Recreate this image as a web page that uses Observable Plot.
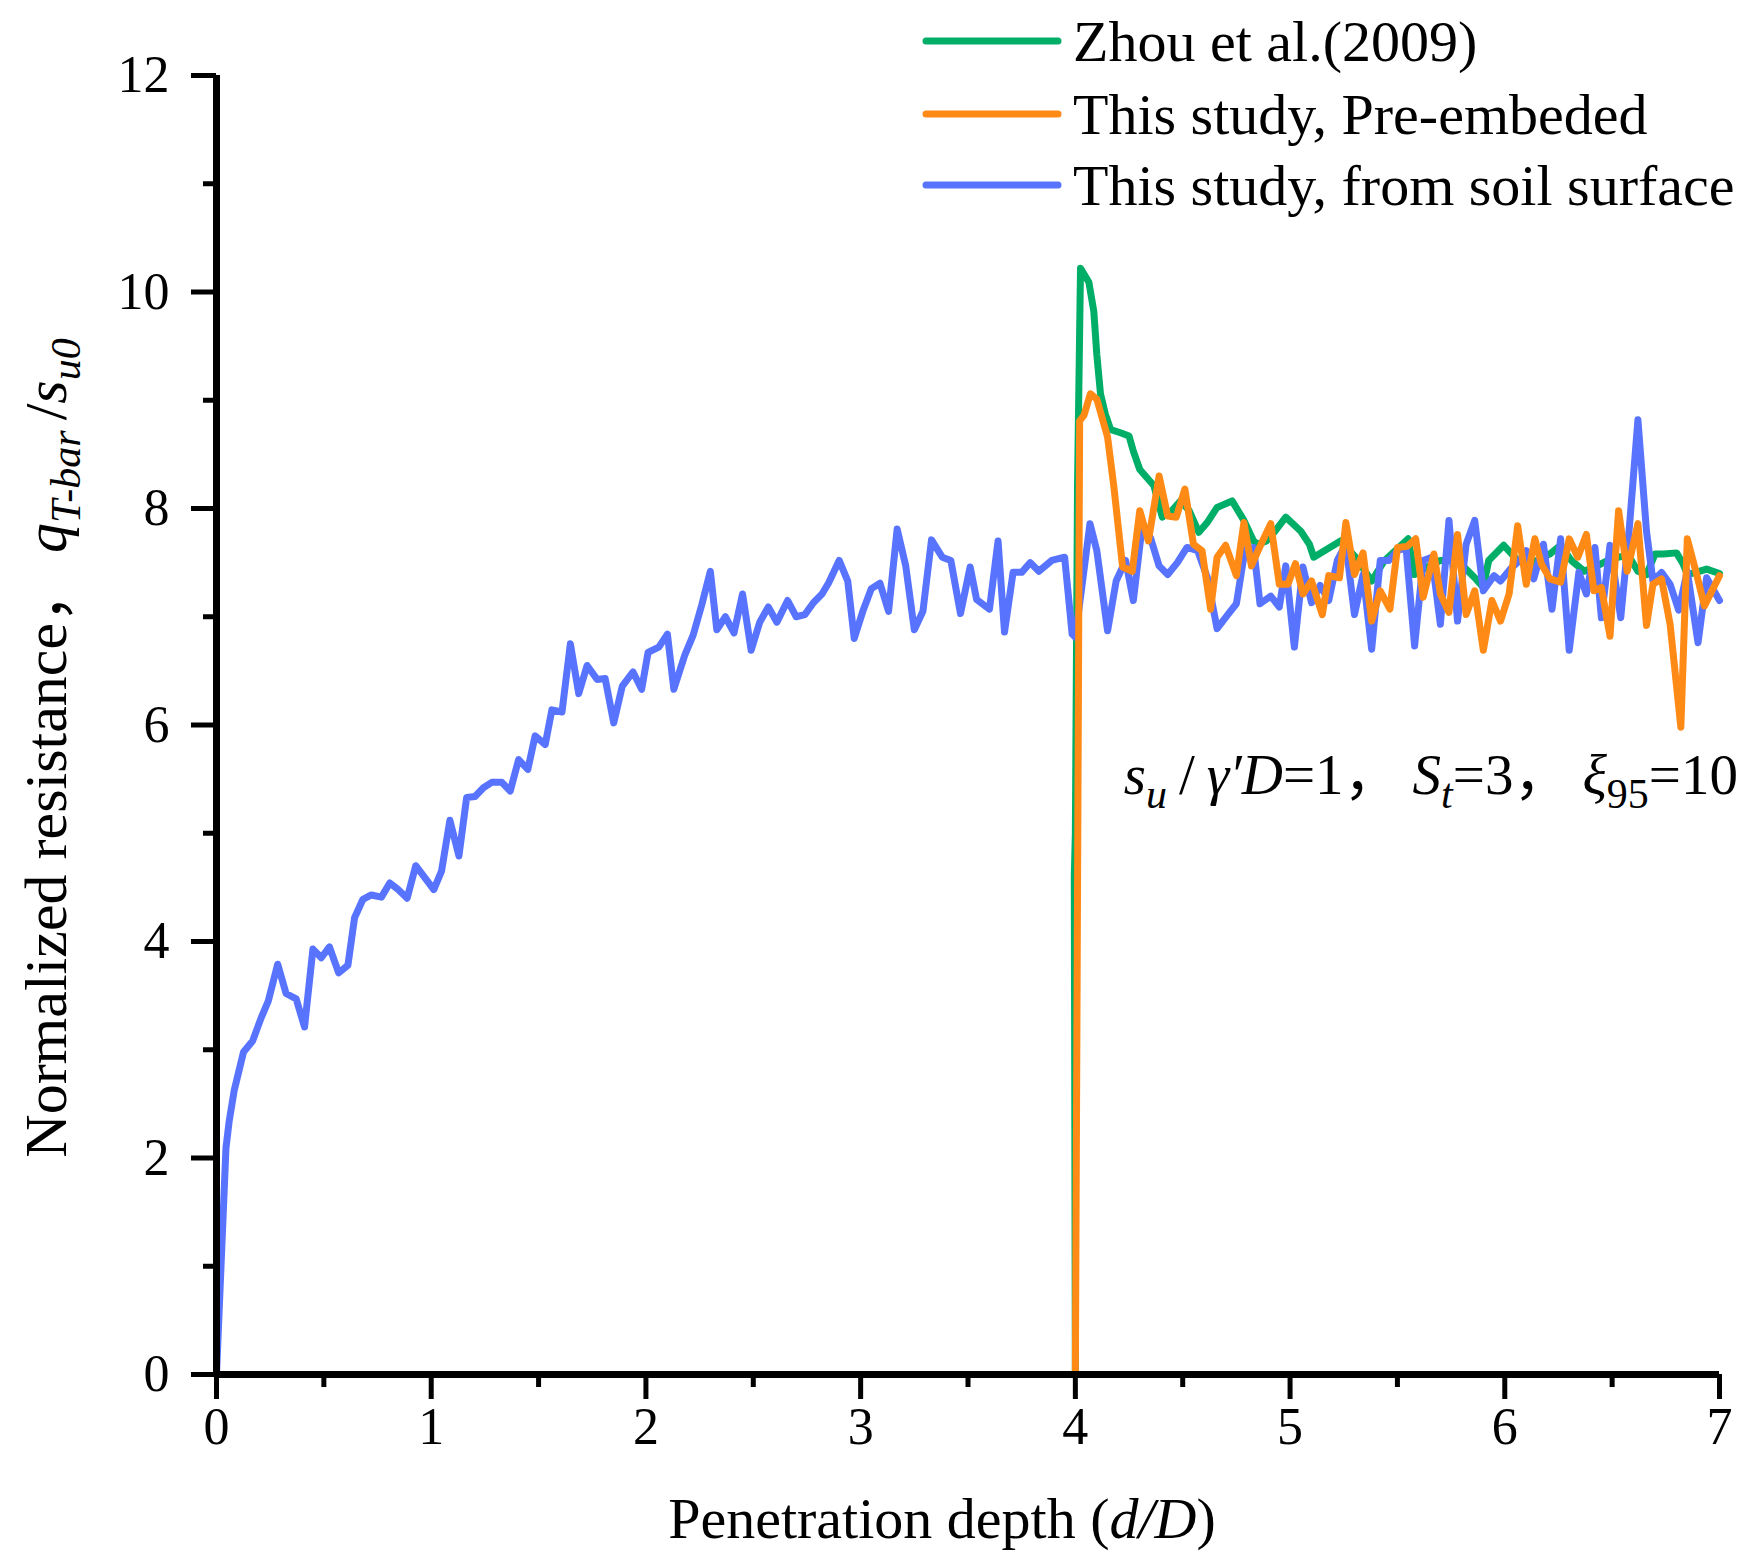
<!DOCTYPE html>
<html>
<head>
<meta charset="utf-8">
<script src="https://cdn.jsdelivr.net/npm/d3@7"></script>
<script src="https://cdn.jsdelivr.net/npm/@observablehq/plot@0.6"></script>
<style>
  html, body { margin: 0; padding: 0; background: #fff; }
  #chart svg { display: block; }
</style>
</head>
<body>
<div id="chart"></div>
<script>
// ---------------- data ----------------
const seriesNames = ["Zhou et al.(2009)", "This study, Pre-embeded", "This study, from soil surface"];
const seriesColors = ["#00AE67", "#FF8A16", "#5874FF"];

const greenDepth = [4.0,3.995,4.0,4.01,4.024,4.063,4.086,4.10,4.117,4.14,4.164,4.21,4.25,4.27,4.30,4.366,4.405,4.45,4.49,4.53,4.575,4.614,4.66,4.73,4.785,4.83,4.85,4.89,4.93,4.98,5.05,5.09,5.11,5.16,5.235,5.305,5.38,5.44,5.55,5.58,5.64,5.70,5.78,5.86,5.90,5.925,5.995,6.06,6.12,6.21,6.26,6.31,6.37,6.45,6.49,6.55,6.59,6.62,6.66,6.70,6.74,6.80,6.83,6.85,6.89,6.94,7.0];
const greenRes   = [0,4.6,5.0,8.2,10.22,10.09,9.82,9.42,9.06,8.87,8.73,8.70,8.67,8.53,8.36,8.21,7.92,7.98,8.07,7.98,7.78,7.87,8.01,8.07,7.89,7.70,7.67,7.70,7.79,7.92,7.79,7.67,7.55,7.61,7.70,7.55,7.33,7.52,7.72,7.39,7.46,7.52,7.52,7.36,7.27,7.52,7.66,7.52,7.49,7.58,7.66,7.52,7.42,7.49,7.53,7.56,7.52,7.42,7.39,7.58,7.58,7.59,7.49,7.39,7.41,7.44,7.40];

const orangeDepth = [4.0,4.02,4.04,4.07,4.10,4.15,4.18,4.22,4.265,4.30,4.34,4.39,4.43,4.47,4.51,4.55,4.59,4.63,4.66,4.70,4.75,4.785,4.82,4.86,4.91,4.95,4.99,5.025,5.06,5.10,5.15,5.18,5.23,5.26,5.30,5.34,5.38,5.42,5.465,5.50,5.545,5.585,5.62,5.67,5.70,5.74,5.78,5.82,5.86,5.90,5.94,5.98,6.02,6.06,6.10,6.14,6.17,6.21,6.26,6.30,6.34,6.38,6.415,6.45,6.49,6.53,6.57,6.62,6.66,6.69,6.73,6.77,6.82,6.85,6.89,6.93,7.0];
const orangeRes   = [0,8.81,8.86,9.06,9.01,8.66,8.19,7.46,7.42,7.98,7.70,8.30,7.93,7.92,8.18,7.67,7.61,7.07,7.55,7.66,7.38,7.87,7.47,7.65,7.86,7.30,7.30,7.49,7.21,7.33,7.02,7.38,7.36,7.87,7.39,7.59,6.96,7.24,7.07,7.64,7.65,7.72,7.18,7.58,7.21,7.04,7.76,7.02,7.24,6.69,7.15,6.96,7.21,7.84,7.30,7.72,7.49,7.35,7.32,7.72,7.55,7.76,7.24,7.27,6.82,7.98,7.42,7.86,6.92,7.30,7.35,6.93,5.98,7.72,7.42,7.10,7.38];

const blueDepth = [0,0.044,0.059,0.083,0.126,0.168,0.207,0.241,0.285,0.324,0.371,0.41,0.449,0.488,0.526,0.569,0.612,0.643,0.682,0.721,0.768,0.807,0.846,0.888,0.928,0.970,1.012,1.048,1.087,1.129,1.165,1.204,1.243,1.282,1.329,1.368,1.407,1.450,1.484,1.531,1.562,1.609,1.648,1.687,1.726,1.773,1.81,1.85,1.89,1.94,1.98,2.01,2.06,2.10,2.13,2.18,2.22,2.26,2.30,2.33,2.37,2.41,2.45,2.49,2.53,2.57,2.61,2.66,2.70,2.74,2.78,2.82,2.85,2.90,2.94,2.97,3.01,3.05,3.09,3.13,3.17,3.21,3.25,3.29,3.33,3.38,3.42,3.465,3.51,3.54,3.60,3.64,3.67,3.71,3.75,3.79,3.83,3.89,3.95,3.985,4.0,4.068,4.10,4.15,4.19,4.234,4.27,4.31,4.35,4.39,4.43,4.475,4.52,4.57,4.615,4.66,4.71,4.75,4.79,4.83,4.86,4.91,4.95,4.98,5.02,5.06,5.10,5.14,5.18,5.22,5.26,5.30,5.34,5.38,5.42,5.46,5.50,5.54,5.58,5.62,5.66,5.70,5.74,5.78,5.82,5.86,5.90,5.95,5.98,6.03,6.07,6.10,6.135,6.18,6.22,6.26,6.30,6.345,6.38,6.42,6.45,6.49,6.54,6.58,6.62,6.66,6.69,6.73,6.77,6.81,6.85,6.90,6.94,7.0];
const blueRes   = [0,2.09,2.34,2.63,2.98,3.08,3.29,3.45,3.79,3.52,3.47,3.21,3.93,3.85,3.95,3.71,3.78,4.22,4.39,4.43,4.41,4.54,4.48,4.40,4.70,4.59,4.48,4.65,5.12,4.79,5.33,5.34,5.42,5.47,5.47,5.39,5.68,5.59,5.90,5.82,6.14,6.12,6.75,6.29,6.55,6.42,6.43,6.02,6.36,6.49,6.33,6.67,6.72,6.84,6.33,6.64,6.83,7.11,7.42,6.88,7.00,6.85,7.21,6.69,6.95,7.09,6.95,7.15,7.00,7.02,7.13,7.21,7.31,7.52,7.33,6.80,7.05,7.26,7.31,7.05,7.81,7.47,6.88,7.05,7.71,7.55,7.52,7.03,7.46,7.16,7.07,7.70,6.86,7.41,7.41,7.50,7.42,7.52,7.55,6.84,6.81,7.86,7.61,6.87,7.33,7.52,7.15,7.82,7.73,7.47,7.39,7.50,7.64,7.61,7.36,6.89,7.02,7.12,7.62,7.64,7.12,7.19,7.09,7.47,6.72,7.46,7.13,7.29,7.15,7.52,7.67,7.02,7.39,6.70,7.52,7.52,7.61,7.64,6.73,7.52,7.55,6.93,7.89,6.96,7.67,7.89,7.24,7.38,7.33,7.45,7.52,7.61,7.35,7.67,7.07,7.72,6.69,7.41,7.21,7.64,6.99,7.66,6.99,7.82,8.82,7.79,7.33,7.41,7.30,7.06,7.42,6.76,7.36,7.15];

const xMajorTicks = [0,1,2,3,4,5,6,7];
const xMinorTicks = [0.5,1.5,2.5,3.5,4.5,5.5,6.5];
const yMajorTicks = [0,2,4,6,8,10,12];
const yMinorTicks = [1,3,5,7,9,11];

// ---------------- build rows ----------------
const toRows = (xs, ys, name) => xs.map((d, i) => ({depth: d, res: ys[i], series: name}));
const greenRows = toRows(greenDepth, greenRes, seriesNames[0]);
const orangeRows = toRows(orangeDepth, orangeRes, seriesNames[1]);
const blueRows = toRows(blueDepth, blueRes, seriesNames[2]);

const FONT = "'Liberation Serif', 'Times New Roman', 'Noto Serif', 'Noto Sans CJK SC', serif";
const W = 1748, H = 1555;

const plot = Plot.plot({
  width: W,
  height: H,
  marginLeft: 216,
  marginRight: 29,
  marginTop: 75,
  marginBottom: 181,
  style: {fontFamily: FONT, background: "#fff", color: "#000"},
  x: {domain: [0, 7], label: null},
  y: {domain: [0, 12], label: null},
  marks: [
    Plot.line(greenRows, {x: "depth", y: "res", stroke: seriesColors[0], strokeWidth: 7, strokeLinejoin: "round"}),
    Plot.line(blueRows, {x: "depth", y: "res", stroke: seriesColors[2], strokeWidth: 7, strokeLinejoin: "round"}),
    Plot.line(orangeRows, {x: "depth", y: "res", stroke: seriesColors[1], strokeWidth: 7, strokeLinejoin: "round"}),
    // minor ticks
    Plot.axisX({ticks: xMinorTicks, tickSize: 13, strokeWidth: 5, text: null, label: null}),
    Plot.axisY({ticks: yMinorTicks, tickSize: 13, strokeWidth: 5, text: null, label: null}),
    // major ticks + labels
    Plot.axisX({ticks: xMajorTicks, tickSize: 25, strokeWidth: 5, tickPadding: 8, fontSize: 52, tickFormat: d => String(d), label: null}),
    Plot.axisY({ticks: yMajorTicks, tickSize: 25, strokeWidth: 5, tickPadding: 22, fontSize: 52, tickFormat: d => String(d), label: null}),
    // axis lines
    Plot.ruleX([0], {stroke: "#000", strokeWidth: 7}),
    Plot.ruleY([0], {stroke: "#000", strokeWidth: 7})
  ]
});

document.getElementById("chart").appendChild(plot);

// ---------------- decorations (labels, legend, annotation) ----------------
const svg = d3.select(plot);
svg.selectAll("text").style("font-family", FONT);

// x axis label
const xl = svg.append("text")
  .attr("x", 942).attr("y", 1538)
  .attr("text-anchor", "middle")
  .attr("font-family", FONT).attr("font-size", 58).attr("fill", "#000");
xl.append("tspan").text("Penetration depth (");
xl.append("tspan").attr("font-style", "italic").text("d/D");
xl.append("tspan").text(")");

// y axis label
const yl = svg.append("text")
  .attr("transform", "translate(66,748) rotate(-90)")
  .attr("text-anchor", "middle")
  .attr("font-family", FONT).attr("font-size", 60).attr("fill", "#000");
yl.append("tspan").text("Normalized resistance，");
yl.append("tspan").attr("font-style", "italic").attr("dx", 10).text("q");
yl.append("tspan").attr("font-style", "italic").attr("font-size", 42).attr("dy", 14).text("T-bar");
yl.append("tspan").attr("dy", -14).attr("dx", 10).text("/");
yl.append("tspan").attr("font-style", "italic").text("s");
yl.append("tspan").attr("font-style", "italic").attr("font-size", 42).attr("dy", 14).text("u0");

// legend
const legendRows = [41, 114, 185];
seriesNames.forEach((name, i) => {
  svg.append("line")
    .attr("x1", 926).attr("x2", 1058)
    .attr("y1", legendRows[i]).attr("y2", legendRows[i])
    .attr("stroke", seriesColors[i]).attr("stroke-width", 7).attr("stroke-linecap", "round");
  svg.append("text")
    .attr("x", 1073).attr("y", legendRows[i] + 20)
    .attr("text-anchor", "start")
    .attr("font-family", FONT).attr("font-size", 58).attr("fill", "#000")
    .text(name);
});

// annotation
const an = svg.append("text")
  .attr("x", 1738).attr("y", 794)
  .attr("text-anchor", "end")
  .attr("font-family", FONT).attr("font-size", 57).attr("fill", "#000");
an.append("tspan").attr("font-style", "italic").text("s");
an.append("tspan").attr("font-style", "italic").attr("font-size", 42).attr("dy", 14).text("u");
an.append("tspan").attr("dy", -14).attr("dx", 12).text("/");
an.append("tspan").attr("font-style", "italic").attr("dx", 12).text("γ′D");
an.append("tspan").text("=1，");
an.append("tspan").attr("font-style", "italic").attr("dx", 12).text("S");
an.append("tspan").attr("font-style", "italic").attr("font-size", 42).attr("dy", 14).text("t");
an.append("tspan").attr("dy", -14).text("=3，");
an.append("tspan").attr("font-style", "italic").attr("dx", 12).text("ξ");
an.append("tspan").attr("font-size", 42).attr("dy", 14).text("95");
an.append("tspan").attr("dy", -14).text("=10");
</script>
</body>
</html>
